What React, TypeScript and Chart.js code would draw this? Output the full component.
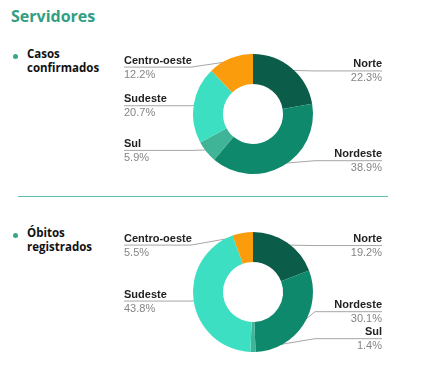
import React, { useEffect, useRef } from "react";
import { Chart, registerables } from "chart.js";

Chart.register(...registerables);

const regions = ["Norte", "Nordeste", "Sul", "Sudeste", "Centro-oeste"];
const casosValues = [22.3, 38.9, 5.9, 20.7, 12.2];
const obitosValues = [19.2, 30.1, 1.4, 43.8, 5.5];
const regionColors = ["#0b5c48", "#0e896b", "#40b496", "#3ddfc2", "#fb9c0d"];

const labelPlugin = {
  id: "leaderLabels",
  beforeDatasetsDraw(chart: any) {
    const ctx = chart.ctx;
    const meta = chart.getDatasetMeta(0);
    const data = chart.data.datasets[0].data as number[];
    const labels = chart.data.labels as string[];
    const items: any[] = [];
    meta.data.forEach((arc: any, i: number) => {
      const p = arc.getProps(["x", "y", "startAngle", "endAngle", "outerRadius"], true);
      const mid = (p.startAngle + p.endAngle) / 2;
      const r = p.outerRadius;
      const ax = p.x + Math.cos(mid) * r * 0.95;
      const ay = p.y + Math.sin(mid) * r * 0.95;
      const right = Math.cos(mid) >= 0;
      const y = Math.min(Math.max(ay, p.y - 0.79 * r), p.y + 0.77 * r);
      items.push({ i, ax, ay, right, y, cx: p.x, cy: p.y, r });
    });
    [true, false].forEach((side) => {
      const group = items.filter((it) => it.right === side).sort((a, b) => a.y - b.y);
      for (let k = group.length - 2; k >= 0; k--) {
        group[k].y = Math.min(group[k].y, group[k + 1].y - 27);
      }
      for (let k = 1; k < group.length; k++) {
        group[k].y = Math.max(group[k].y, group[k - 1].y + 27);
      }
    });
    ctx.save();
    items.forEach((it) => {
      const edge = it.right ? it.cx + 129 : it.cx - 129;
      const bend = it.right ? edge - 67 : edge + 67;
      ctx.strokeStyle = "#a6a6a6";
      ctx.lineWidth = 1;
      ctx.beginPath();
      ctx.moveTo(edge, it.y + 0.5);
      ctx.lineTo(bend, it.y + 0.5);
      ctx.lineTo(it.ax, it.ay);
      ctx.stroke();
      ctx.textAlign = it.right ? "right" : "left";
      ctx.textBaseline = "alphabetic";
      ctx.font = "bold 11px 'Liberation Sans', Arial, sans-serif";
      ctx.fillStyle = "#222222";
      ctx.fillText(labels[it.i], edge, it.y - 3);
      ctx.font = "11px 'Liberation Sans', Arial, sans-serif";
      ctx.fillStyle = "#858585";
      ctx.fillText(data[it.i].toFixed(1) + "%", edge, it.y + 11);
    });
    ctx.restore();
  },
};

function Donut({ values, top, padTop }: { values: number[]; top: number; padTop: number }) {
  const ref = useRef<HTMLCanvasElement>(null);
  useEffect(() => {
    if (!ref.current) return;
    const chart = new Chart(ref.current, {
      type: "doughnut",
      data: {
        labels: regions,
        datasets: [
          {
            data: values,
            backgroundColor: regionColors,
            borderWidth: 0,
          },
        ],
      },
      options: {
        animation: false,
        responsive: false,
        cutout: "50%",
        layout: { padding: { left: 93, right: 111, top: padTop, bottom: 150 - 120 - padTop } },
        plugins: { legend: { display: false }, tooltip: { enabled: false } },
      },
      plugins: [labelPlugin],
    });
    return () => chart.destroy();
  }, []);
  return (
    <canvas
      ref={ref}
      width={324}
      height={150}
      style={{ position: "absolute", left: 100, top, width: 324, height: 150 }}
    />
  );
}

function Bullet({ top, lines }: { top: number; lines: string[] }) {
  return (
    <>
      <div
        style={{
          position: "absolute",
          left: 13,
          top: top + 5,
          width: 5,
          height: 5,
          borderRadius: 3,
          background: "#3aa58a",
        }}
      />
      <div
        style={{
          position: "absolute",
          left: 27,
          top: top - 2,
          fontFamily: "'Open Sans', sans-serif",
          fontWeight: 700,
          fontSize: 11.5,
          lineHeight: "14px",
          color: "#111",
        }}
      >
        {lines.map((l) => (
          <div key={l}>{l}</div>
        ))}
      </div>
    </>
  );
}

export default function App() {
  return (
    <div style={{ position: "absolute", left: 0, top: 0, width: 424, height: 372, background: "#fff", overflow: "hidden" }}>
      <div
        style={{
          position: "absolute",
          left: 11,
          top: 5,
          fontFamily: "'Open Sans', sans-serif",
          fontWeight: 700,
          fontSize: 16,
          color: "#329e82",
        }}
      >
        Servidores
      </div>
      <Bullet top={49} lines={["Casos", "confirmados"]} />
      <div style={{ position: "absolute", left: 18, top: 196, width: 370, height: 1, background: "#5bbfb0" }} />
      <Bullet top={228} lines={["Óbitos", "registrados"]} />
      <Donut values={casosValues} top={40} padTop={14} />
      <Donut values={obitosValues} top={220} padTop={12} />
    </div>
  );
}
